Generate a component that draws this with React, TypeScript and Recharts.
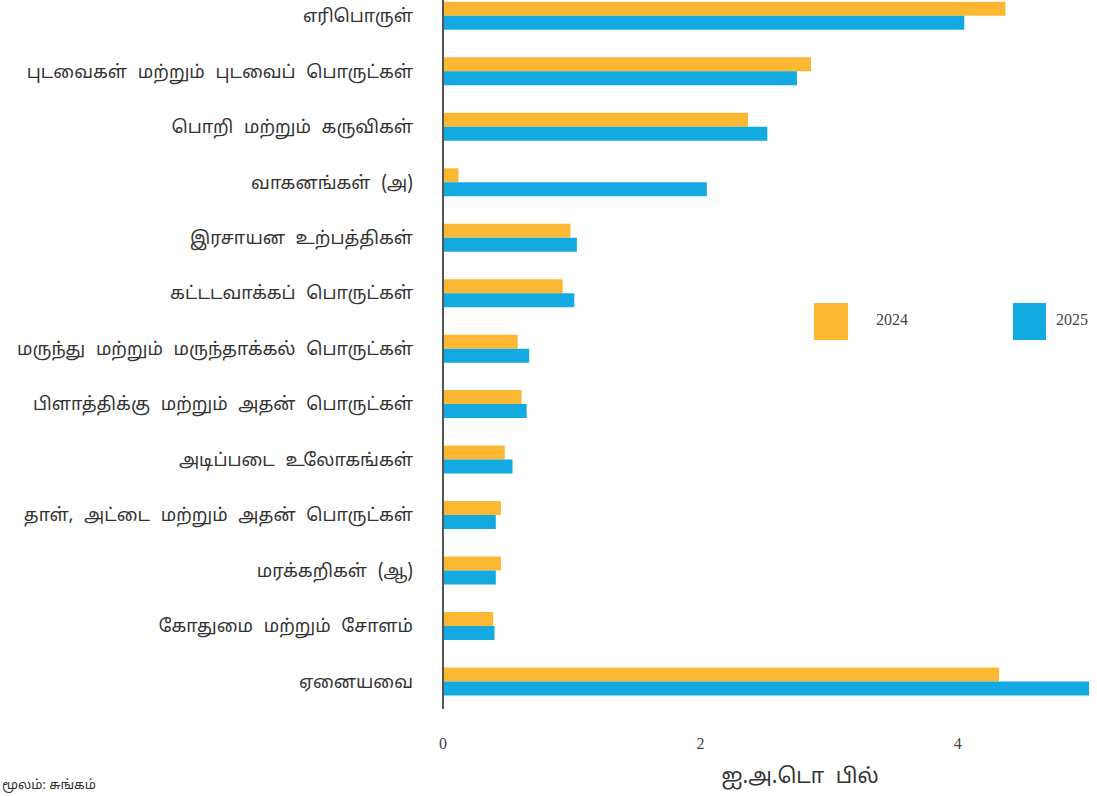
import React from 'react';
import { BarChart, Bar, XAxis, YAxis, Label } from 'recharts';

const categories = [
  'எரிபொருள்',
  'புடவைகள் மற்றும் புடவைப் பொருட்கள்',
  'பொறி மற்றும் கருவிகள்',
  'வாகனங்கள் (அ)',
  'இரசாயன உற்பத்திகள்',
  'கட்டடவாக்கப் பொருட்கள்',
  'மருந்து மற்றும் மருந்தாக்கல் பொருட்கள்',
  'பிளாத்திக்கு மற்றும் அதன் பொருட்கள்',
  'அடிப்படை உலோகங்கள்',
  'தாள், அட்டை மற்றும் அதன் பொருட்கள்',
  'மரக்கறிகள் (ஆ)',
  'கோதுமை மற்றும் சோளம்',
  'ஏனையவை',
];
const values2024 = [4.37, 2.86, 2.37, 0.12, 0.99, 0.93, 0.58, 0.61, 0.48, 0.45, 0.45, 0.39, 4.32];
const values2025 = [4.05, 2.75, 2.52, 2.05, 1.04, 1.02, 0.67, 0.65, 0.54, 0.41, 0.41, 0.40, 5.02];
const xTicks = [0, 2, 4];
const seriesNames = ['2024', '2025'];
const axisTitle = 'ஐ.அ.டொ பில்';
const sourceNote = 'மூலம்: சுங்கம்';

const colors = ['#FDB833', '#12AAE1'];
const tamilFont = '"Noto Sans Tamil", "Noto Serif Tamil", "Lohit Tamil", "FreeSans", "Noto Sans", sans-serif';

const data = categories.map((c, i) => ({ name: c, y2024: values2024[i], y2025: values2025[i] }));

const LegendContent = () => (
  <div style={{ position: 'relative', width: 300, height: 40 }}>
    <div style={{ position: 'absolute', left: 0, top: 0, width: 34, height: 37, background: colors[0] }} />
    <div style={{ position: 'absolute', left: 62, top: 8, fontFamily: '"Liberation Serif", serif', fontSize: 16, color: '#444' }}>{seriesNames[0]}</div>
    <div style={{ position: 'absolute', left: 199, top: 0, width: 33, height: 37, background: colors[1] }} />
    <div style={{ position: 'absolute', left: 242, top: 8, fontFamily: '"Liberation Serif", serif', fontSize: 16, color: '#444' }}>{seriesNames[1]}</div>
  </div>
);

export default function App() {
  return (
    <div style={{ position: 'absolute', left: 0, top: 0, width: 1097, height: 796, overflow: 'hidden', background: '#fff' }}>
      <div style={{ position: 'absolute', left: 0, top: -12 }}>
        <BarChart
          width={1097}
          height={830}
          data={data}
          layout="vertical"
          margin={{ top: 0, right: 4, bottom: 0, left: 0 }}
          barCategoryGap="25%"
          barGap={0}
        >
          <XAxis
            type="number"
            domain={[0, 5.05]}
            ticks={xTicks}
            axisLine={false}
            tickLine={false}
            tickSize={0}
            tickMargin={29}
            height={109}
            tick={{ fontFamily: '"Liberation Serif", serif', fontSize: 16, fill: '#444' }}
          >
            <Label
              content={(props: any) => {
                const vb = props.viewBox || {};
                return (
                  <text
                    x={vb.x + vb.width / 2 + 32}
                    y={vb.y + 69}
                    textAnchor="middle"
                    dominantBaseline="central"
                    style={{ fontFamily: tamilFont, fontSize: 21, fill: '#333', wordSpacing: 6 }}
                  >
                    {axisTitle}
                  </text>
                );
              }}
            />
          </XAxis>
          <YAxis
            type="category"
            dataKey="name"
            width={443}
            axisLine={{ stroke: '#555', strokeWidth: 2 }}
            tickLine={false}
            tickSize={0}
            tickMargin={30}
            interval={0}
            tick={{ fontFamily: tamilFont, fontSize: 18, fill: '#333', style: { wordSpacing: 6 } }}
          />
          <Bar dataKey="y2024" name={seriesNames[0]} fill={colors[0]} isAnimationActive={false} />
          <Bar dataKey="y2025" name={seriesNames[1]} fill={colors[1]} isAnimationActive={false} />
        </BarChart>
      </div>
      <div style={{ position: 'absolute', left: 814, top: 303 }}>
        <LegendContent />
      </div>
      <div style={{ position: 'absolute', left: 2, top: 778, fontFamily: tamilFont, fontSize: 13, color: '#333', whiteSpace: 'nowrap' }}>
        {sourceNote}
      </div>
    </div>
  );
}
